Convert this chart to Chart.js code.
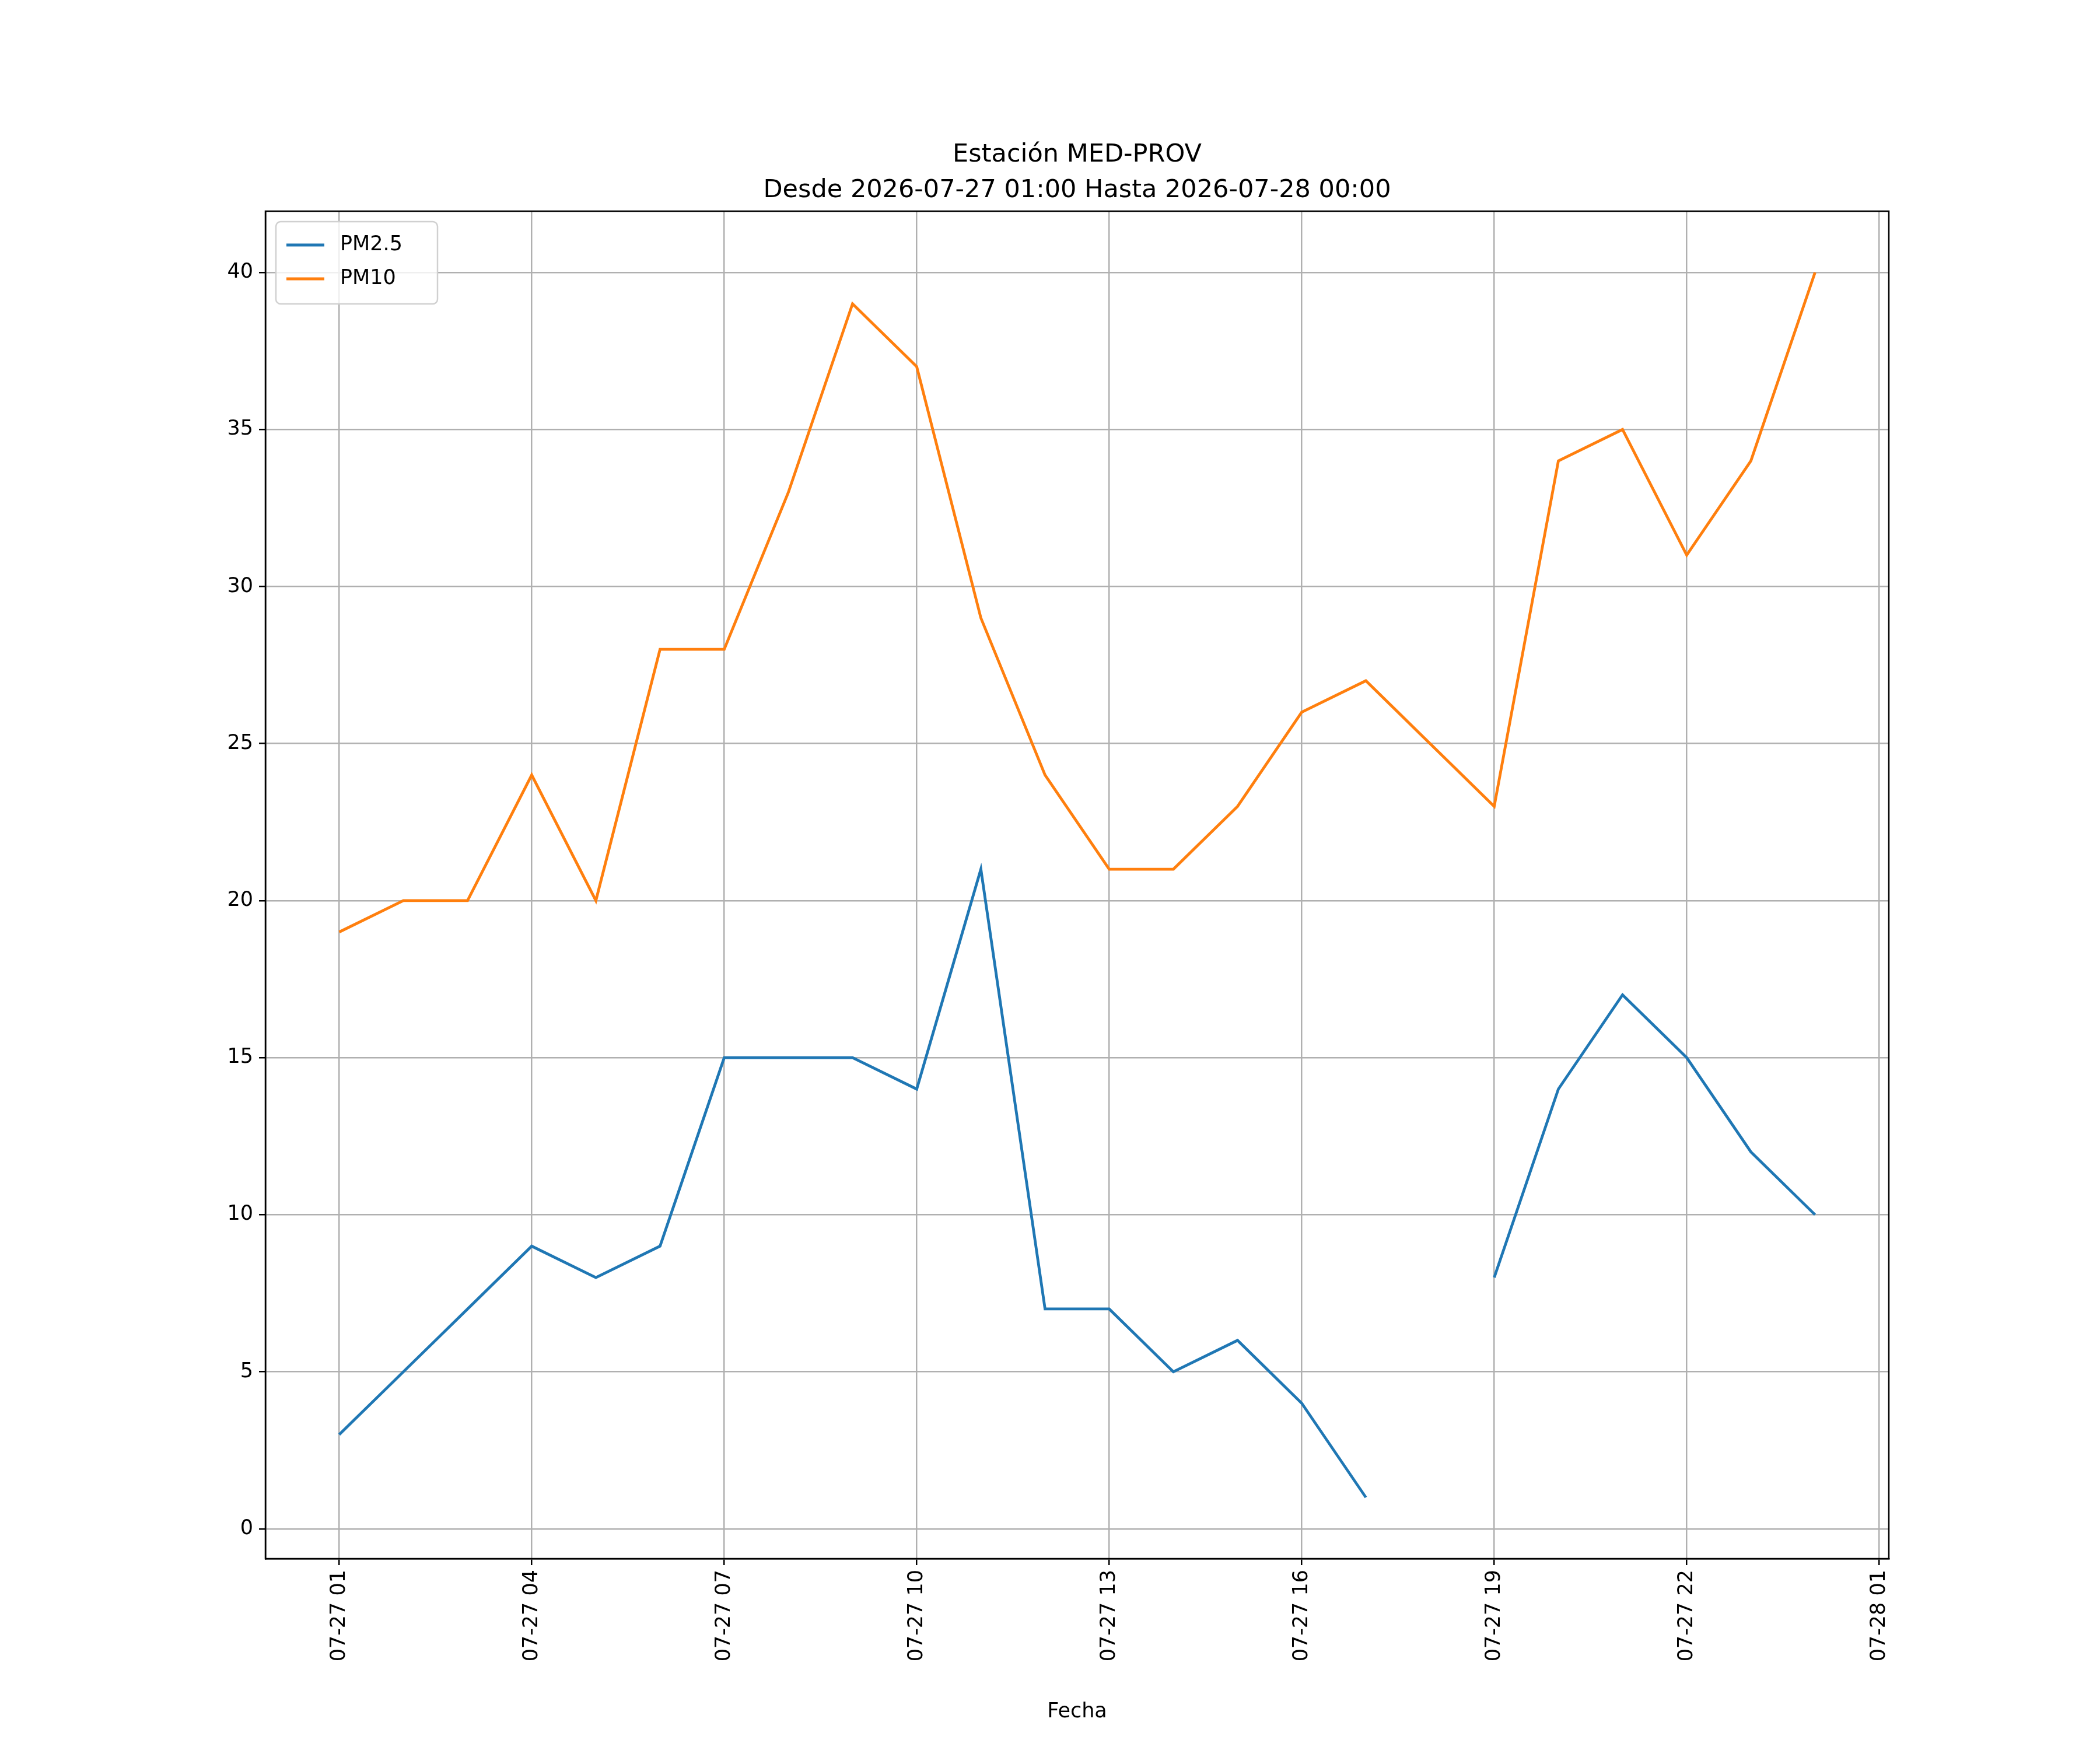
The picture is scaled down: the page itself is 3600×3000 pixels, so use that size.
<!DOCTYPE html>
<html>
<head>
<meta charset="utf-8">
<script src="https://cdn.jsdelivr.net/npm/chart.js@4/dist/chart.umd.min.js"></script>
<style>
  body { margin: 0; background: #fff; }
  #wrap { width: 3600px; height: 3000px; }
</style>
</head>
<body>
<div id="wrap"><canvas id="chart" width="3600" height="3000"></canvas></div>
<script>
// horas del 2026-07-27 (24 = 2026-07-28 00:00)
var horas = [1,2,3,4,5,6,7,8,9,10,11,12,13,14,15,16,17,18,19,20,21,22,23,24];
var pm25 = [3,5,7,9,8,9,15,15,15,14,21,7,7,5,6,4,1,null,8,14,17,15,12,10];
var pm10 = [19,20,20,24,20,28,28,33,39,37,29,24,21,21,23,26,27,25,23,34,35,31,34,40];

const toPoints = (vals) => horas.map((h, i) => ({ x: h, y: vals[i] }));

const fmtHora = (h) => {
    var d = h >= 24 ? '07-28' : '07-27';
    var hh = h % 24;
    return d + ' ' + (hh < 10 ? '0' + hh : '' + hh);
};

const FONT = 'DejaVu Sans';

const extras = {
    id: 'extras',
    afterDraw(chart) {
        const ctx = chart.ctx;
        const a = chart.chartArea;
        ctx.save();
        // marco superior y derecho
        ctx.strokeStyle = '#000';
        ctx.lineWidth = 2.5;
        ctx.strokeRect(a.left, a.top, a.right - a.left, a.bottom - a.top);
        // título
        ctx.fillStyle = '#000';
        ctx.font = '43px "' + FONT + '"';
        ctx.textAlign = 'center';
        ctx.textBaseline = 'alphabetic';
        var cx = (a.left + a.right) / 2;
        ctx.fillText('Estación MED-PROV', cx, 277);
        ctx.fillText('Desde 2026-07-27 01:00 Hasta 2026-07-28 00:00', cx, 338);
        // leyenda
        var lx = a.left + 18, ly = a.top + 18;
        ctx.fillStyle = 'rgba(255,255,255,0.8)';
        ctx.strokeStyle = '#d0d0d0';
        ctx.lineWidth = 2.5;
        ctx.beginPath();
        ctx.roundRect(lx, ly, 277, 141, 8);
        ctx.fill();
        ctx.stroke();
        var items = [['PM2.5', '#1f77b4'], ['PM10', '#ff7f0e']];
        ctx.font = '35px "' + FONT + '"';
        ctx.textAlign = 'left';
        ctx.textBaseline = 'middle';
        items.forEach((it, i) => {
            var y = ly + 40 + i * 58;
            ctx.strokeStyle = it[1];
            ctx.lineWidth = 4.8;
            ctx.beginPath();
            ctx.moveTo(lx + 18, y);
            ctx.lineTo(lx + 83, y);
            ctx.stroke();
            ctx.fillStyle = '#000';
            ctx.fillText(it[0], lx + 110, y);
        });
        ctx.restore();
    }
};

new Chart(document.getElementById('chart'), {
    type: 'line',
    data: {
        datasets: [
            { label: 'PM2.5', data: toPoints(pm25), borderColor: '#1f77b4', borderWidth: 4.8, pointRadius: 0, spanGaps: false, tension: 0 },
            { label: 'PM10', data: toPoints(pm10), borderColor: '#ff7f0e', borderWidth: 4.8, pointRadius: 0, spanGaps: false, tension: 0 }
        ]
    },
    options: {
        responsive: false,
        animation: false,
        devicePixelRatio: 1,
        layout: { padding: { left: 200, right: 362, top: 362, bottom: 40 } },
        plugins: { legend: { display: false }, tooltip: { enabled: false } },
        scales: {
            x: {
                type: 'linear',
                min: -0.15,
                max: 25.15,
                afterBuildTicks: (s) => { s.ticks = [1,4,7,10,13,16,19,22,25].map(v => ({ value: v })); },
                afterFit: (s) => { s.height = 288; },
                ticks: {
                    callback: (v) => fmtHora(v),
                    maxRotation: 90, minRotation: 90,
                    color: '#000', font: { family: FONT, size: 35 }, padding: 8
                },
                grid: { color: '#b0b0b0', lineWidth: 2.5, tickColor: '#000', tickLength: 11 },
                border: { color: '#000', width: 2.5 },
                title: { display: true, text: 'Fecha', color: '#000', font: { family: FONT, size: 35 }, padding: { top: 0 } }
            },
            y: {
                min: -0.95,
                max: 41.95,
                afterBuildTicks: (s) => { s.ticks = [0,5,10,15,20,25,30,35,40].map(v => ({ value: v })); },
                afterFit: (s) => { s.width = 255; },
                ticks: { color: '#000', font: { family: FONT, size: 35 }, padding: 10 },
                grid: { color: '#b0b0b0', lineWidth: 2.5, tickColor: '#000', tickLength: 11 },
                border: { color: '#000', width: 2.5 }
            }
        }
    },
    plugins: [extras]
});
</script>
</body>
</html>
